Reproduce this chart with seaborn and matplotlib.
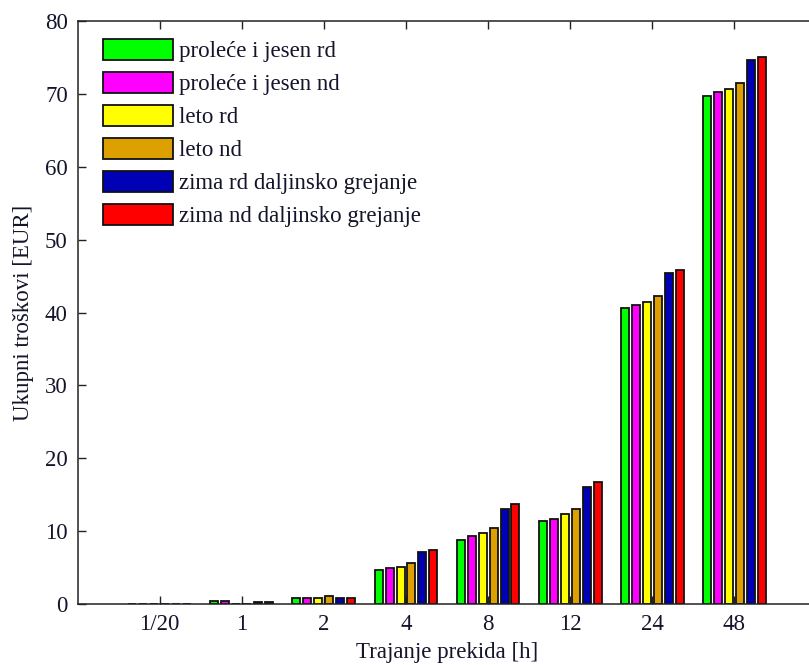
import numpy as np
import pandas as pd
import matplotlib
matplotlib.use("Agg")
import matplotlib.pyplot as plt
import seaborn as sns

# Outage durations (x categories)
trajanje = ["1/20", "1", "2", "4", "8", "12", "24", "48"]

# Total costs [EUR] per scenario
prolece_jesen_rd = [0.02, 0.35, 0.85, 4.65, 8.85, 11.4, 40.6, 69.7]
prolece_jesen_nd = [0.02, 0.35, 0.85, 4.90, 9.30, 11.6, 41.05, 70.3]
leto_rd = [0.02, 0.05, 0.85, 5.10, 9.75, 12.3, 41.5, 70.7]
leto_nd = [0.02, 0.05, 1.15, 5.60, 10.45, 13.0, 42.2, 71.5]
zima_rd = [0.02, 0.30, 0.85, 7.20, 13.0, 16.05, 45.4, 74.6]
zima_nd = [0.02, 0.30, 0.85, 7.40, 13.7, 16.75, 45.9, 75.1]

scenariji = [
    "proleće i jesen rd",
    "proleće i jesen nd",
    "leto rd",
    "leto nd",
    "zima rd daljinsko grejanje",
    "zima nd daljinsko grejanje",
]
vrednosti = [prolece_jesen_rd, prolece_jesen_nd, leto_rd, leto_nd, zima_rd, zima_nd]
boje = ["#00ff00", "#ff00ff", "#ffff00", "#dea000", "#0000b4", "#ff0000"]

df = pd.DataFrame(
    [
        {"trajanje": t, "scenario": s, "troskovi": v}
        for s, vals in zip(scenariji, vrednosti)
        for t, v in zip(trajanje, vals)
    ]
)

sns.set_theme(style="white")
plt.rcParams["font.family"] = ["Liberation Serif", "DejaVu Serif"]
plt.rcParams["axes.edgecolor"] = "#222222"

fig = plt.figure(figsize=(8.09, 6.65), dpi=100)
ax = fig.add_axes([0.0958, 0.0917, 0.9136, 0.8767])

sns.barplot(
    data=df, x="trajanje", y="troskovi", hue="scenario",
    order=trajanje, hue_order=scenariji, palette=boje, saturation=1,
    width=0.8, gap=0.27, edgecolor="#111111", linewidth=1.3,
    errorbar=None, ax=ax,
)

ax.set_xlim(-1, 8)
ax.set_ylim(0, 80)
ax.set_yticks(np.arange(0, 81, 10))
ax.set_xlabel("Trajanje prekida [h]", fontsize=16.5, labelpad=5, color="#14142a")
ax.set_ylabel("Ukupni troškovi [EUR]", fontsize=16.5, labelpad=8, color="#14142a")

for sp in ax.spines.values():
    sp.set_visible(True)
    sp.set_linewidth(1.1)
    sp.set_color("#222222")

ax.tick_params(axis="both", which="major", direction="in", length=6, width=1.0,
               color="#222222", labelsize=16.5, labelcolor="#14142a",
               top=True, right=True, bottom=True, left=True, pad=7)

handles, labels = ax.get_legend_handles_labels()
leg = ax.legend(
    handles, labels, loc="upper left", bbox_to_anchor=(0.034, 0.97),
    frameon=False, fontsize=16.5, handlelength=3.05, handleheight=1.05,
    handletextpad=0.3, labelspacing=0.42, borderaxespad=0, borderpad=0,
)
for txt in leg.get_texts():
    txt.set_color("#14142a")

fig.savefig("out.png", dpi=100)
